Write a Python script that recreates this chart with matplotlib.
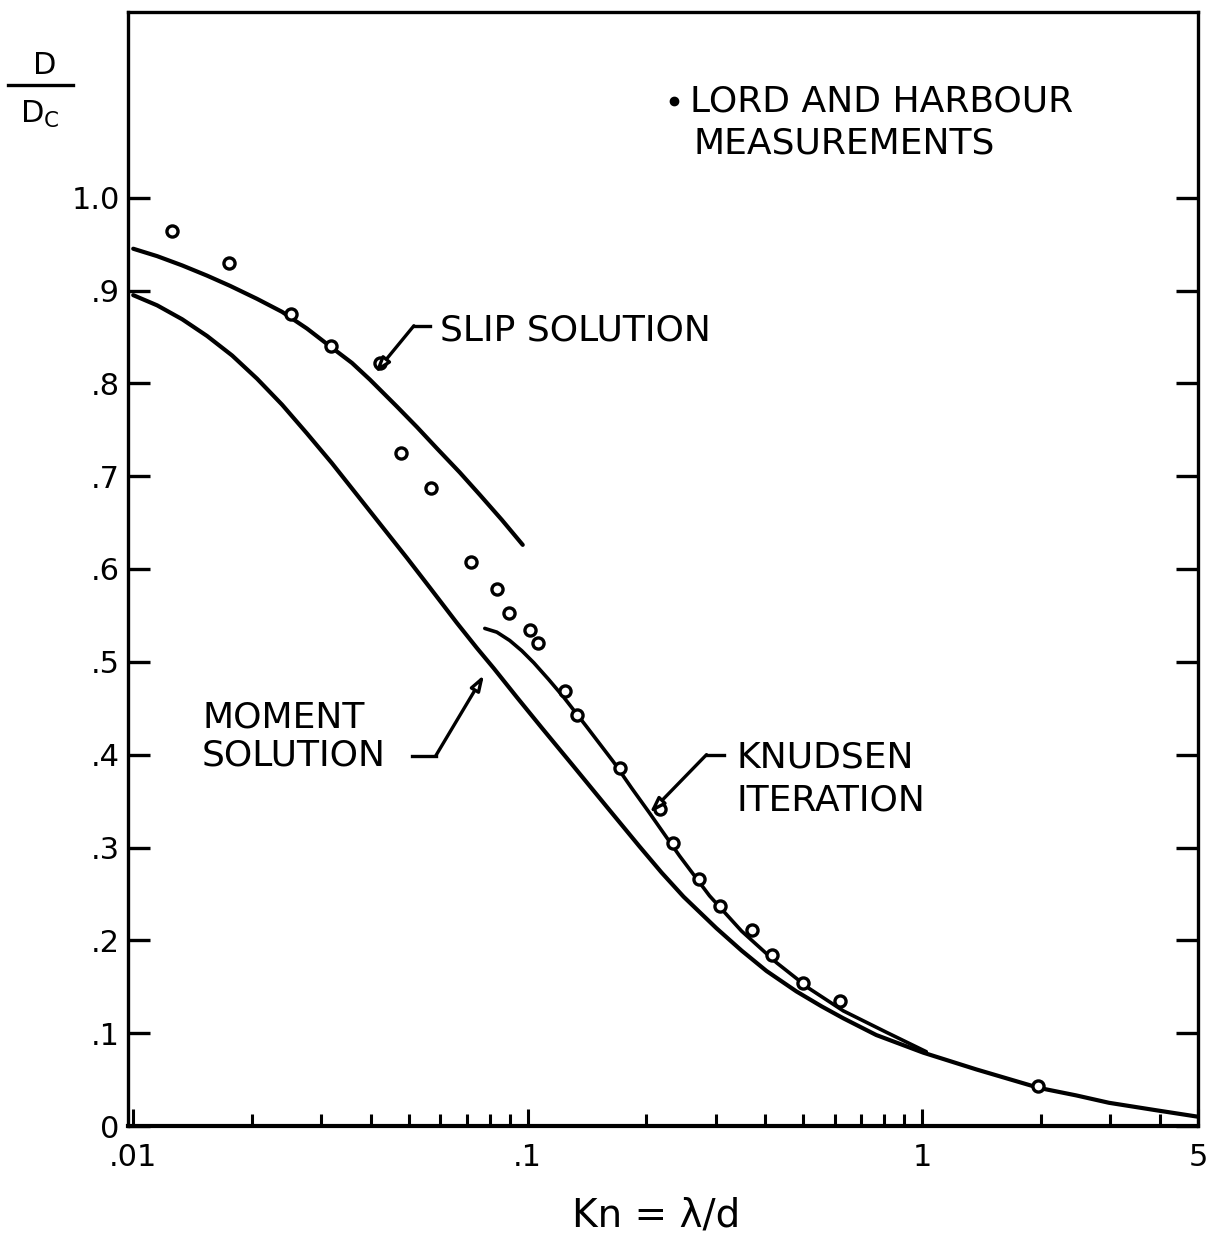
import matplotlib
matplotlib.use("Agg")
import matplotlib.pyplot as plt
from matplotlib.lines import Line2D

# ── data ─────────────────────────────────────────────────────────────────────
slip_kn = [0.0100, 0.01150, 0.01331, 0.01539, 0.01760, 0.02060, 0.02384,
           0.02757, 0.03152, 0.03584, 0.03981, 0.04660, 0.05236, 0.05883,
           0.06726, 0.07558, 0.08595, 0.09712]
slip_d  = [0.945, 0.937, 0.927, 0.916, 0.905, 0.891, 0.877, 0.859, 0.840,
           0.822, 0.804, 0.775, 0.753, 0.730, 0.704, 0.680, 0.653, 0.626]

moment_kn = [0.0100, 0.01150, 0.01331, 0.01539, 0.01781, 0.02060, 0.02384,
             0.02757, 0.03189, 0.03690, 0.04269, 0.04940, 0.05647, 0.06611,
             0.07428, 0.08203, 0.09380, 0.1085, 0.1292, 0.1585, 0.1921,
             0.2184, 0.2483, 0.3009, 0.3483, 0.4029, 0.4797, 0.5551, 0.6310,
             0.7646, 1.006, 1.370, 1.978, 2.454, 2.974, 3.912, 5.0]
moment_d  = [0.895, 0.884, 0.869, 0.851, 0.830, 0.805, 0.777, 0.746, 0.714,
             0.680, 0.646, 0.612, 0.580, 0.542, 0.515, 0.493, 0.462, 0.429,
             0.390, 0.344, 0.301, 0.273, 0.247, 0.213, 0.189, 0.167, 0.145,
             0.129, 0.116, 0.098, 0.079, 0.061, 0.041, 0.033, 0.025, 0.017,
             0.010]

knudsen_kn = [0.07783, 0.08348, 0.09002, 0.09656, 0.1036, 0.1130, 0.1233,
              0.1411, 0.1651, 0.1834, 0.2037, 0.2425, 0.2889, 0.3483, 0.4270,
              0.5174, 0.6310, 0.8108, 1.024]
knudsen_d  = [0.536, 0.532, 0.523, 0.512, 0.499, 0.481, 0.462, 0.430, 0.392,
              0.364, 0.337, 0.291, 0.248, 0.210, 0.176, 0.148, 0.124, 0.101,
              0.080]

# Lord and Harbour measurements
meas_kn = [0.01255, 0.0175, 0.0251, 0.0317, 0.0422, 0.0477, 0.0568, 0.0718,
           0.0835, 0.0895, 0.1012, 0.106, 0.124, 0.133, 0.171, 0.217, 0.233,
           0.272, 0.308, 0.371, 0.415, 0.500, 0.617, 1.97]
meas_d  = [0.964, 0.930, 0.875, 0.840, 0.822, 0.725, 0.687, 0.608, 0.578,
           0.553, 0.534, 0.520, 0.469, 0.443, 0.386, 0.342, 0.305, 0.266,
           0.237, 0.211, 0.184, 0.154, 0.135, 0.043]

x_major        = [0.01, 0.1, 1, 5]
x_major_labels = [".01", ".1", "1", "5"]
x_minor        = [0.02, 0.03, 0.04, 0.05, 0.06, 0.07, 0.08, 0.09,
                  0.2, 0.3, 0.4, 0.5, 0.6, 0.7, 0.8, 0.9, 2, 3, 4]
y_ticks        = [0, .1, .2, .3, .4, .5, .6, .7, .8, .9, 1.0]
y_tick_labels  = ["0", ".1", ".2", ".3", ".4", ".5", ".6", ".7", ".8", ".9", "1.0"]

W, H = 1224, 1250
plt.rcParams["font.family"] = "DejaVu Sans"


def fx(px):  # pixel -> figure fraction
    return px / W


def fy(py):
    return 1 - py / H


fig = plt.figure(figsize=(W / 100, H / 100), dpi=100)
ax = fig.add_axes([fx(128), fy(1126), fx(1198) - fx(128), (1126 - 12) / H])

ax.plot(slip_kn, slip_d, color="black", lw=3, solid_capstyle="round",
        solid_joinstyle="round")
ax.plot(moment_kn, moment_d, color="black", lw=3, solid_capstyle="round",
        solid_joinstyle="round")
ax.plot(knudsen_kn, knudsen_d, color="black", lw=2.6, solid_capstyle="round",
        solid_joinstyle="round")
ax.plot(meas_kn, meas_d, "o", ms=8, mfc="white", mec="black", mew=2.4,
        ls="none")

ax.set_xscale("log")
ax.set_xlim(0.0097, 5.0)
ax.set_ylim(0, 1.2)
ax.set_xticks(x_major)
ax.set_xticklabels(x_major_labels)
ax.set_xticks(x_minor, minor=True)
ax.xaxis.set_minor_formatter(plt.NullFormatter())
ax.set_yticks(y_ticks)
ax.set_yticklabels(y_tick_labels)

ax.tick_params(axis="x", which="major", direction="in", length=12, width=2.2,
               labelsize=22, pad=12)
ax.tick_params(axis="x", which="minor", direction="in", length=9, width=2.2)
ax.tick_params(axis="y", direction="in", length=16, width=2.4, labelsize=22,
               pad=6, right=True)
for s in ax.spines.values():
    s.set_linewidth(2.4)
ax.spines["bottom"].set_linewidth(3)

# ── annotations ──────────────────────────────────────────────────────────────
LBL = dict(fontsize=26, color="black", va="center", ha="left")
ARW = dict(arrowstyle="-|>,head_length=0.9,head_width=0.3", fc="white",
           ec="black", lw=2.4, shrinkA=0, shrinkB=0)

# slip solution
ax.text(0.0599, 0.857, "SLIP SOLUTION", **LBL)
ax.plot([0.05647, 0.05145], [0.862, 0.862], color="black", lw=2.4)
ax.annotate("", xy=(0.0410, 0.811), xytext=(0.05145, 0.862), arrowprops=ARW)

# moment solution
ax.text(0.01495, 0.440, "MOMENT", **LBL)
ax.text(0.01495, 0.399, "SOLUTION", **LBL)
ax.plot([0.05086, 0.05850], [0.399, 0.399], color="black", lw=2.4)
ax.annotate("", xy=(0.0775, 0.486), xytext=(0.05850, 0.399), arrowprops=ARW)

# knudsen iteration
ax.text(0.3382, 0.397, "KNUDSEN", **LBL)
ax.text(0.3382, 0.351, "ITERATION", **LBL)
ax.plot([0.3152, 0.2839], [0.400, 0.400], color="black", lw=2.4)
ax.annotate("", xy=(0.2037, 0.337), xytext=(0.2839, 0.400), arrowprops=ARW)

# legend key
ax.plot([0.2355], [1.104], "o", ms=6, color="black")
ax.text(0.2571, 1.104, "LORD AND HARBOUR", **LBL)
ax.text(0.2632, 1.058, "MEASUREMENTS", **LBL)

# ── axis titles ──────────────────────────────────────────────────────────────
fig.text(fx(45), fy(66), "D", fontsize=22, ha="center", va="center")
fig.add_artist(Line2D([fx(8), fx(73)], [fy(85), fy(85)], color="black",
                      lw=2.4, transform=fig.transFigure))
fig.text(fx(40), fy(114), r"D$_\mathregular{C}$", fontsize=22, ha="center",
         va="center")
fig.text(fx(656), fy(1215), "Kn = λ/d", fontsize=28, ha="center",
         va="center")

fig.savefig("out.png", dpi=100, facecolor="white")
